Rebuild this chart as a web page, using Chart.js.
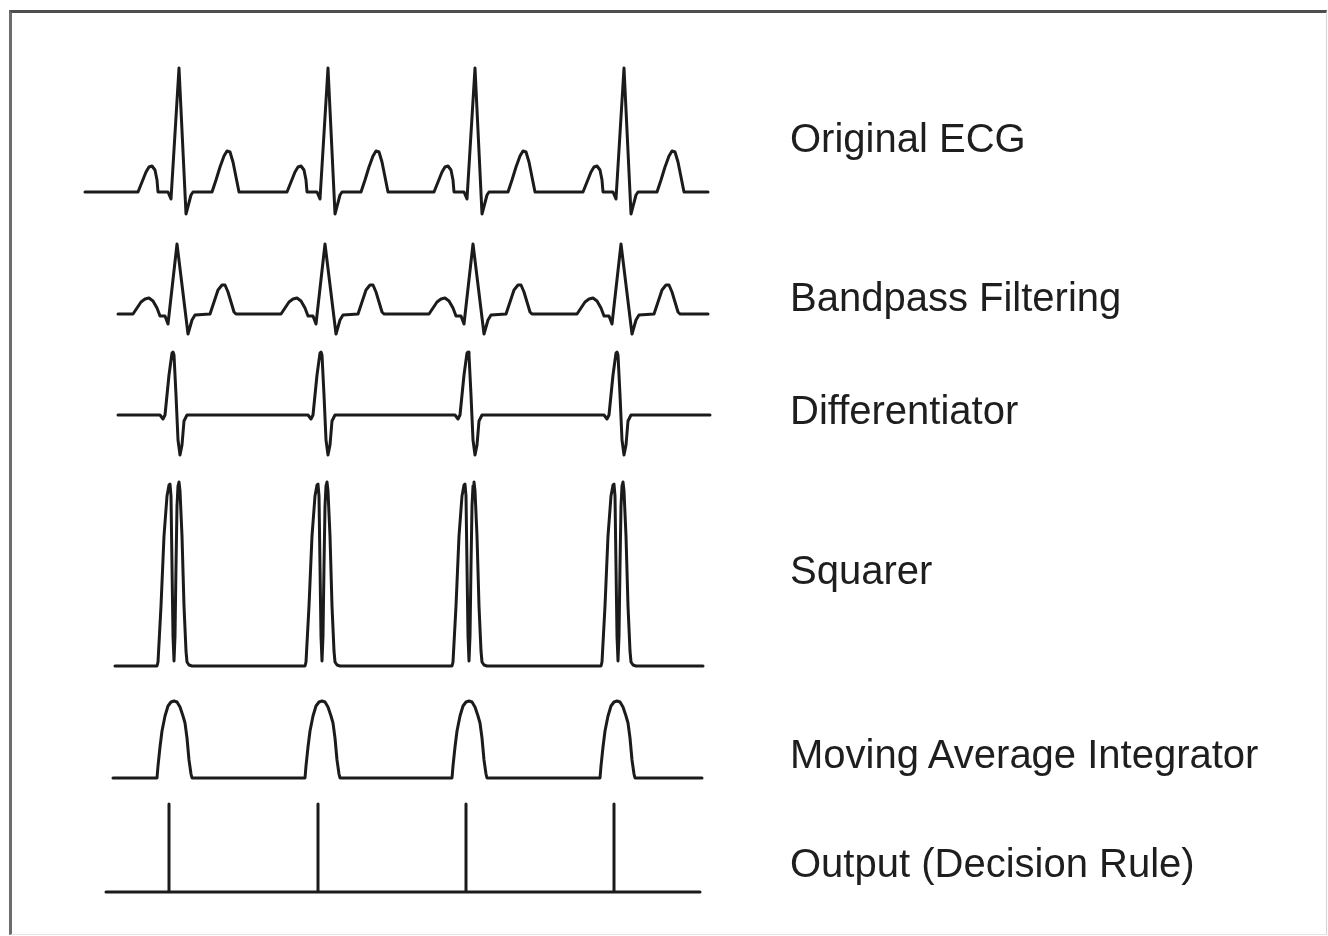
<!DOCTYPE html>
<html>
<head>
<meta charset="utf-8">
<title>QRS detection stages</title>
<script src="https://cdn.jsdelivr.net/npm/chart.js@4.4.1/dist/chart.umd.min.js"></script>
<style>
  html, body { margin: 0; padding: 0; background: #fff; }
  #wrap { position: relative; width: 1328px; height: 936px; overflow: hidden; background: #fff; }
  #frame {
    position: absolute; left: 9px; top: 10px; width: 1318px; height: 925px;
    box-sizing: border-box;
    border-top: 3px solid #4e4e4e; border-left: 3px solid #6c6c6c;
    border-right: 1px solid #d6d6d6; border-bottom: 1px solid #e4e4e4;
  }
  #graficaEtapas { position: absolute; left: 0; top: 0; }
  .etiqueta {
    position: absolute; left: 790px; white-space: nowrap;
    font-family: "Liberation Sans", Arial, sans-serif; font-size: 40px; line-height: 40px;
    color: #1e1e1e;
  }
</style>
</head>
<body>
<div id="wrap">
  <div id="frame"></div>
  <canvas id="graficaEtapas" width="1328" height="936"></canvas>
</div>
<script>
// stage names, top to bottom
const stageNames = ['Original ECG', 'Bandpass Filtering', 'Differentiator', 'Squarer', 'Moving Average Integrator', 'Output (Decision Rule)'];

// beat instants (ms)
const ecgBeats = [470, 1215, 1950, 2695];
const bandpassBeats = [460, 1200, 1940, 2680];
const diffBeats = [440, 1180, 1915, 2660];
const squarerBeats = [425, 1165, 1900, 2645];
const integratorBeats = [450, 1190, 1925, 2665];
const outputBeats = [420, 1165, 1905, 2645];

// where each trace starts and ends (ms)
const ecgSpan = [0, 3115];
const bandpassSpan = [165, 3115];
const diffSpan = [165, 3125];
const squarerSpan = [150, 3090];
const integratorSpan = [140, 3085];
const outputSpan = [105, 3075];

// one complex per trace: offset from the beat (ms) and amplitude
const ecgShapeT = [-205, -185, -165, -150, -135, -120, -110, -105, -55, -40, 0, 35, 60, 70, 165, 185, 205, 225, 240, 255, 270, 285, 300];
const ecgShapeV = [0, 0.10, 0.20, 0.25, 0.26, 0.22, 0.12, 0, 0, -0.07, 1.24, -0.22, -0.03, 0, 0, 0.12, 0.25, 0.36, 0.41, 0.40, 0.30, 0.15, 0];

const bandpassShapeT = [-220, -200, -180, -160, -140, -120, -100, -85, -60, -45, 0, 55, 75, 90, 165, 185, 205, 225, 240, 255, 270, 285, 295];
const bandpassShapeV = [0, 0.06, 0.12, 0.15, 0.16, 0.13, 0.06, -0.02, -0.02, -0.10, 0.70, -0.20, -0.06, -0.01, 0, 0.12, 0.24, 0.29, 0.29, 0.22, 0.12, 0.02, 0];

const diffShapeT = [-65, -50, -40, -20, -5, 0, 5, 15, 25, 35, 45, 55, 70];
const diffShapeV = [0, -0.04, 0, 0.40, 0.62, 0.63, 0.60, 0.20, -0.25, -0.40, -0.30, -0.06, 0];

const squarerShapeT = [-65, -60, -45, -30, -15, -5, 0, 5, 10, 15, 20, 25, 30, 35, 40, 45, 50, 60, 70, 80, 85, 95, 110];
const squarerShapeV = [0, 0.04, 0.6, 1.3, 1.7, 1.81, 1.82, 1.7, 1.0, 0.3, 0.05, 0.3, 1.0, 1.6, 1.8, 1.84, 1.75, 1.3, 0.6, 0.15, 0.04, 0.01, 0];

const integratorShapeT = [-90, -85, -75, -65, -50, -35, -20, -5, 10, 25, 40, 50, 60, 70, 80, 85];
const integratorShapeV = [0, 0.12, 0.31, 0.47, 0.62, 0.72, 0.76, 0.77, 0.76, 0.71, 0.62, 0.55, 0.40, 0.18, 0.04, 0];

const outputShapeT = [0, 0, 0];
const outputShapeV = [0, 0.88, 0];

// layout: vertical band of each trace (value range + share of height) and label tops
const bandRanges = [[-0.38, 1.42], [-0.26, 0.84], [-0.55, 0.75], [-0.14, 1.96], [-0.12, 0.98], [-0.18, 1.02]];
const bandWeights = [180, 110, 130, 210, 110, 120];
const labelTops = [118, 277, 390, 550, 734, 843];

function buildTrace(span, beats, shapeT, shapeV) {
    const pts = [{ x: span[0], y: 0 }];
    beats.forEach(b => {
        shapeT.forEach((t, i) => pts.push({ x: b + t, y: shapeV[i] }));
    });
    pts.push({ x: span[1], y: 0 });
    return pts;
}

const traces = [
    buildTrace(ecgSpan, ecgBeats, ecgShapeT, ecgShapeV),
    buildTrace(bandpassSpan, bandpassBeats, bandpassShapeT, bandpassShapeV),
    buildTrace(diffSpan, diffBeats, diffShapeT, diffShapeV),
    buildTrace(squarerSpan, squarerBeats, squarerShapeT, squarerShapeV),
    buildTrace(integratorSpan, integratorBeats, integratorShapeT, integratorShapeV),
    buildTrace(outputSpan, outputBeats, outputShapeT, outputShapeV)
];

function initStagesChart() {
    const ctx = document.getElementById('graficaEtapas');
    if (!ctx) return;

    const scales = {
        x: { type: 'linear', min: 0, max: 3125, display: false }
    };
    // stacked left axes are laid out bottom-up, so declare the last stage first
    for (let i = stageNames.length - 1; i >= 0; i--) {
        scales['y' + i] = {
            type: 'linear',
            display: false,
            position: 'left',
            stack: 'stages',
            stackWeight: bandWeights[i],
            min: bandRanges[i][0],
            max: bandRanges[i][1]
        };
    }

    ctx.__chartInstance = new Chart(ctx, {
        type: 'line',
        data: {
            datasets: stageNames.map((name, i) => ({
                label: name,
                data: traces[i],
                yAxisID: 'y' + i,
                borderColor: '#1b1b1b',
                borderWidth: 3,
                borderJoinStyle: 'round',
                borderCapStyle: 'round',
                tension: 0,
                pointRadius: 0,
                clip: false
            }))
        },
        options: {
            responsive: false,
            animation: false,
            events: [],
            layout: { padding: { left: 85, right: 618, top: 50, bottom: 26 } },
            scales,
            plugins: { legend: { display: false }, tooltip: { enabled: false } }
        }
    });

    const wrap = document.getElementById('wrap');
    stageNames.forEach((name, i) => {
        const div = document.createElement('div');
        div.className = 'etiqueta';
        div.style.top = labelTops[i] + 'px';
        div.textContent = name;
        wrap.appendChild(div);
    });
}

initStagesChart();
</script>
</body>
</html>
